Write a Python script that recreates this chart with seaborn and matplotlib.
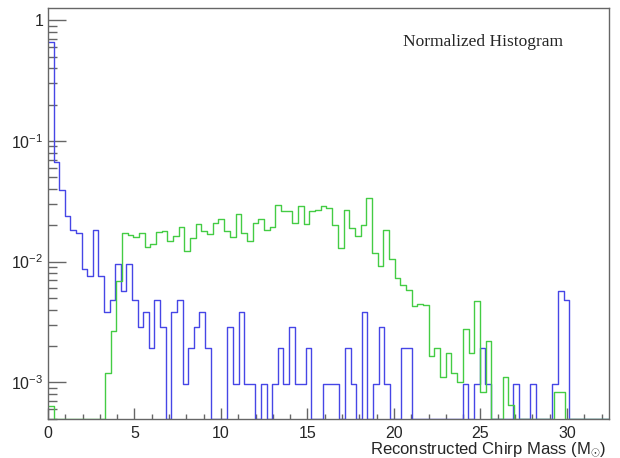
import numpy as np
import pandas as pd
import seaborn as sns
import matplotlib.pyplot as plt
from matplotlib.ticker import FixedLocator, LogLocator, MultipleLocator, NullFormatter

# bin contents, 100 bins per histogram (fraction of entries)
blue_vals = [0.665, 0.0667, 0.0391, 0.0239, 0.0182, 0.0171, 0.00865, 0.00766, 0.0182, 0.00766,
             0.00383, 0.00479, 0.0095, 0.00572, 0.0095, 0.00479, 0.00288, 0.00381, 0.00192, 0.00479,
             0.00288, 0, 0.00381, 0.00479, 0.000964, 0.00192, 0.00288, 0.00381, 0.00192, 0,
             0, 0, 0.00288, 0.000964, 0.00381, 0.000964, 0.000964, 0, 0.000964, 0,
             0.000964, 0.00192, 0.000964, 0.00288, 0.000964, 0.000964, 0.00192, 0, 0, 0.000964,
             0.000964, 0.000964, 0, 0.00192, 0.000964, 0, 0.00381, 0, 0.000964, 0.00288,
             0.000964, 0, 0, 0.00192, 0.00192, 0, 0, 0, 0, 0,
             0, 0, 0, 0, 0.000964, 0, 0.000964, 0.00192, 0.000964, 0,
             0, 0, 0, 0.000964, 0, 0, 0.000964, 0, 0, 0,
             0.000964, 0.00572, 0.00479, 0, 0, 0, 0, 0, 0, 0]

green_vals = [0.00064, 0, 0, 0, 0, 0, 0, 0, 0, 0,
              0.0012, 0.00267, 0.00687, 0.0173, 0.0167, 0.0161, 0.0172, 0.01316, 0.01402, 0.0175,
              0.0178, 0.0148, 0.0162, 0.0194, 0.0123, 0.0156, 0.0204, 0.0178, 0.0169, 0.021,
              0.0227, 0.0178, 0.016, 0.0247, 0.0173, 0.0148, 0.0207, 0.0226, 0.0183, 0.0194,
              0.0293, 0.0262, 0.0262, 0.0208, 0.0289, 0.0204, 0.026, 0.0268, 0.0288, 0.0278,
              0.0201, 0.0129, 0.0268, 0.0191, 0.0163, 0.0201, 0.0339, 0.0117, 0.0092, 0.0182,
              0.0104, 0.00733, 0.00637, 0.0058, 0.00432, 0.00443, 0.00435, 0.00166, 0.00193, 0.00111,
              0.00175, 0.0012, 0.00101, 0.00275, 0.00175, 0.00467, 0.00083, 0.0022, 0, 0,
              0.0011, 0.00065, 0, 0, 0, 0, 0, 0, 0, 0.00083,
              0.00083, 0, 0, 0, 0, 0, 0, 0, 0, 0]

blue_range = (0, 32.4)
green_range = (0, 32.85)

ymin, ymax = 5e-4, 1.257

sns.set_style("ticks")
plt.rcParams["font.family"] = ["Liberation Sans", "DejaVu Sans"]
plt.rcParams["mathtext.fontset"] = "custom"
plt.rcParams["mathtext.rm"] = "Liberation Sans"
plt.rcParams["mathtext.it"] = "Liberation Sans:italic"

fig = plt.figure(figsize=(6.2, 4.58), dpi=100)
ax = fig.add_axes([48 / 620, 1 - 418.5 / 458, 560.5 / 620, 410.2 / 458])
ax.set_yscale("log")


def draw_hist(vals, rng, color):
    n = len(vals)
    width = (rng[1] - rng[0]) / n
    centers = rng[0] + width * (np.arange(n) + 0.5)
    df = pd.DataFrame({"x": centers, "w": vals})
    # empty bins sit on the bottom of the frame, like the original
    df["w"] = df["w"].where(df["w"] > 0, ymin)
    sns.histplot(data=df, x="x", weights="w", bins=n, binrange=rng, element="step",
                 fill=False, color=color, linewidth=1.0, ax=ax)


draw_hist(blue_vals, blue_range, "#4646e6")
draw_hist(green_vals, green_range, "#44cc44")

ax.set_xlim(0, 32.4)
ax.set_ylim(ymin, ymax)
ax.set_xlabel("")
ax.set_ylabel("")

ax.xaxis.set_major_locator(MultipleLocator(5))
ax.xaxis.set_minor_locator(MultipleLocator(1))
ax.yaxis.set_major_locator(FixedLocator([1e-3, 1e-2, 1e-1, 1]))
ax.yaxis.set_minor_locator(LogLocator(base=10, subs=np.arange(2, 10)))
ax.yaxis.set_minor_formatter(NullFormatter())
ax.set_yticklabels([r"$\mathregular{10^{-3}}$", r"$\mathregular{10^{-2}}$",
                    r"$\mathregular{10^{-1}}$", "1"])

frame_col = "#666666"
for s in ax.spines.values():
    s.set_color(frame_col)
    s.set_linewidth(1.0)
ax.tick_params(axis="both", which="both", direction="in", color=frame_col,
               labelsize=11.5, top=False, right=False)
ax.tick_params(axis="y", which="major", length=13, width=1.0, pad=3.5)
ax.tick_params(axis="y", which="minor", length=6.5, width=1.0)
ax.tick_params(axis="x", which="major", length=8, width=1.0, pad=5.5)
ax.tick_params(axis="x", which="minor", length=3.6, width=1.0)

fig.text(483 / 620, 1 - 42 / 458, "Normalized Histogram", ha="center", va="center",
         family=["Liberation Serif", "DejaVu Serif"], fontsize=12.5)
fig.text(606 / 620, 1 - 450 / 458, r"Reconstructed Chirp Mass (M$_{\odot}$)",
         ha="right", va="center", fontsize=12)

fig.savefig("out.png", dpi=100)
